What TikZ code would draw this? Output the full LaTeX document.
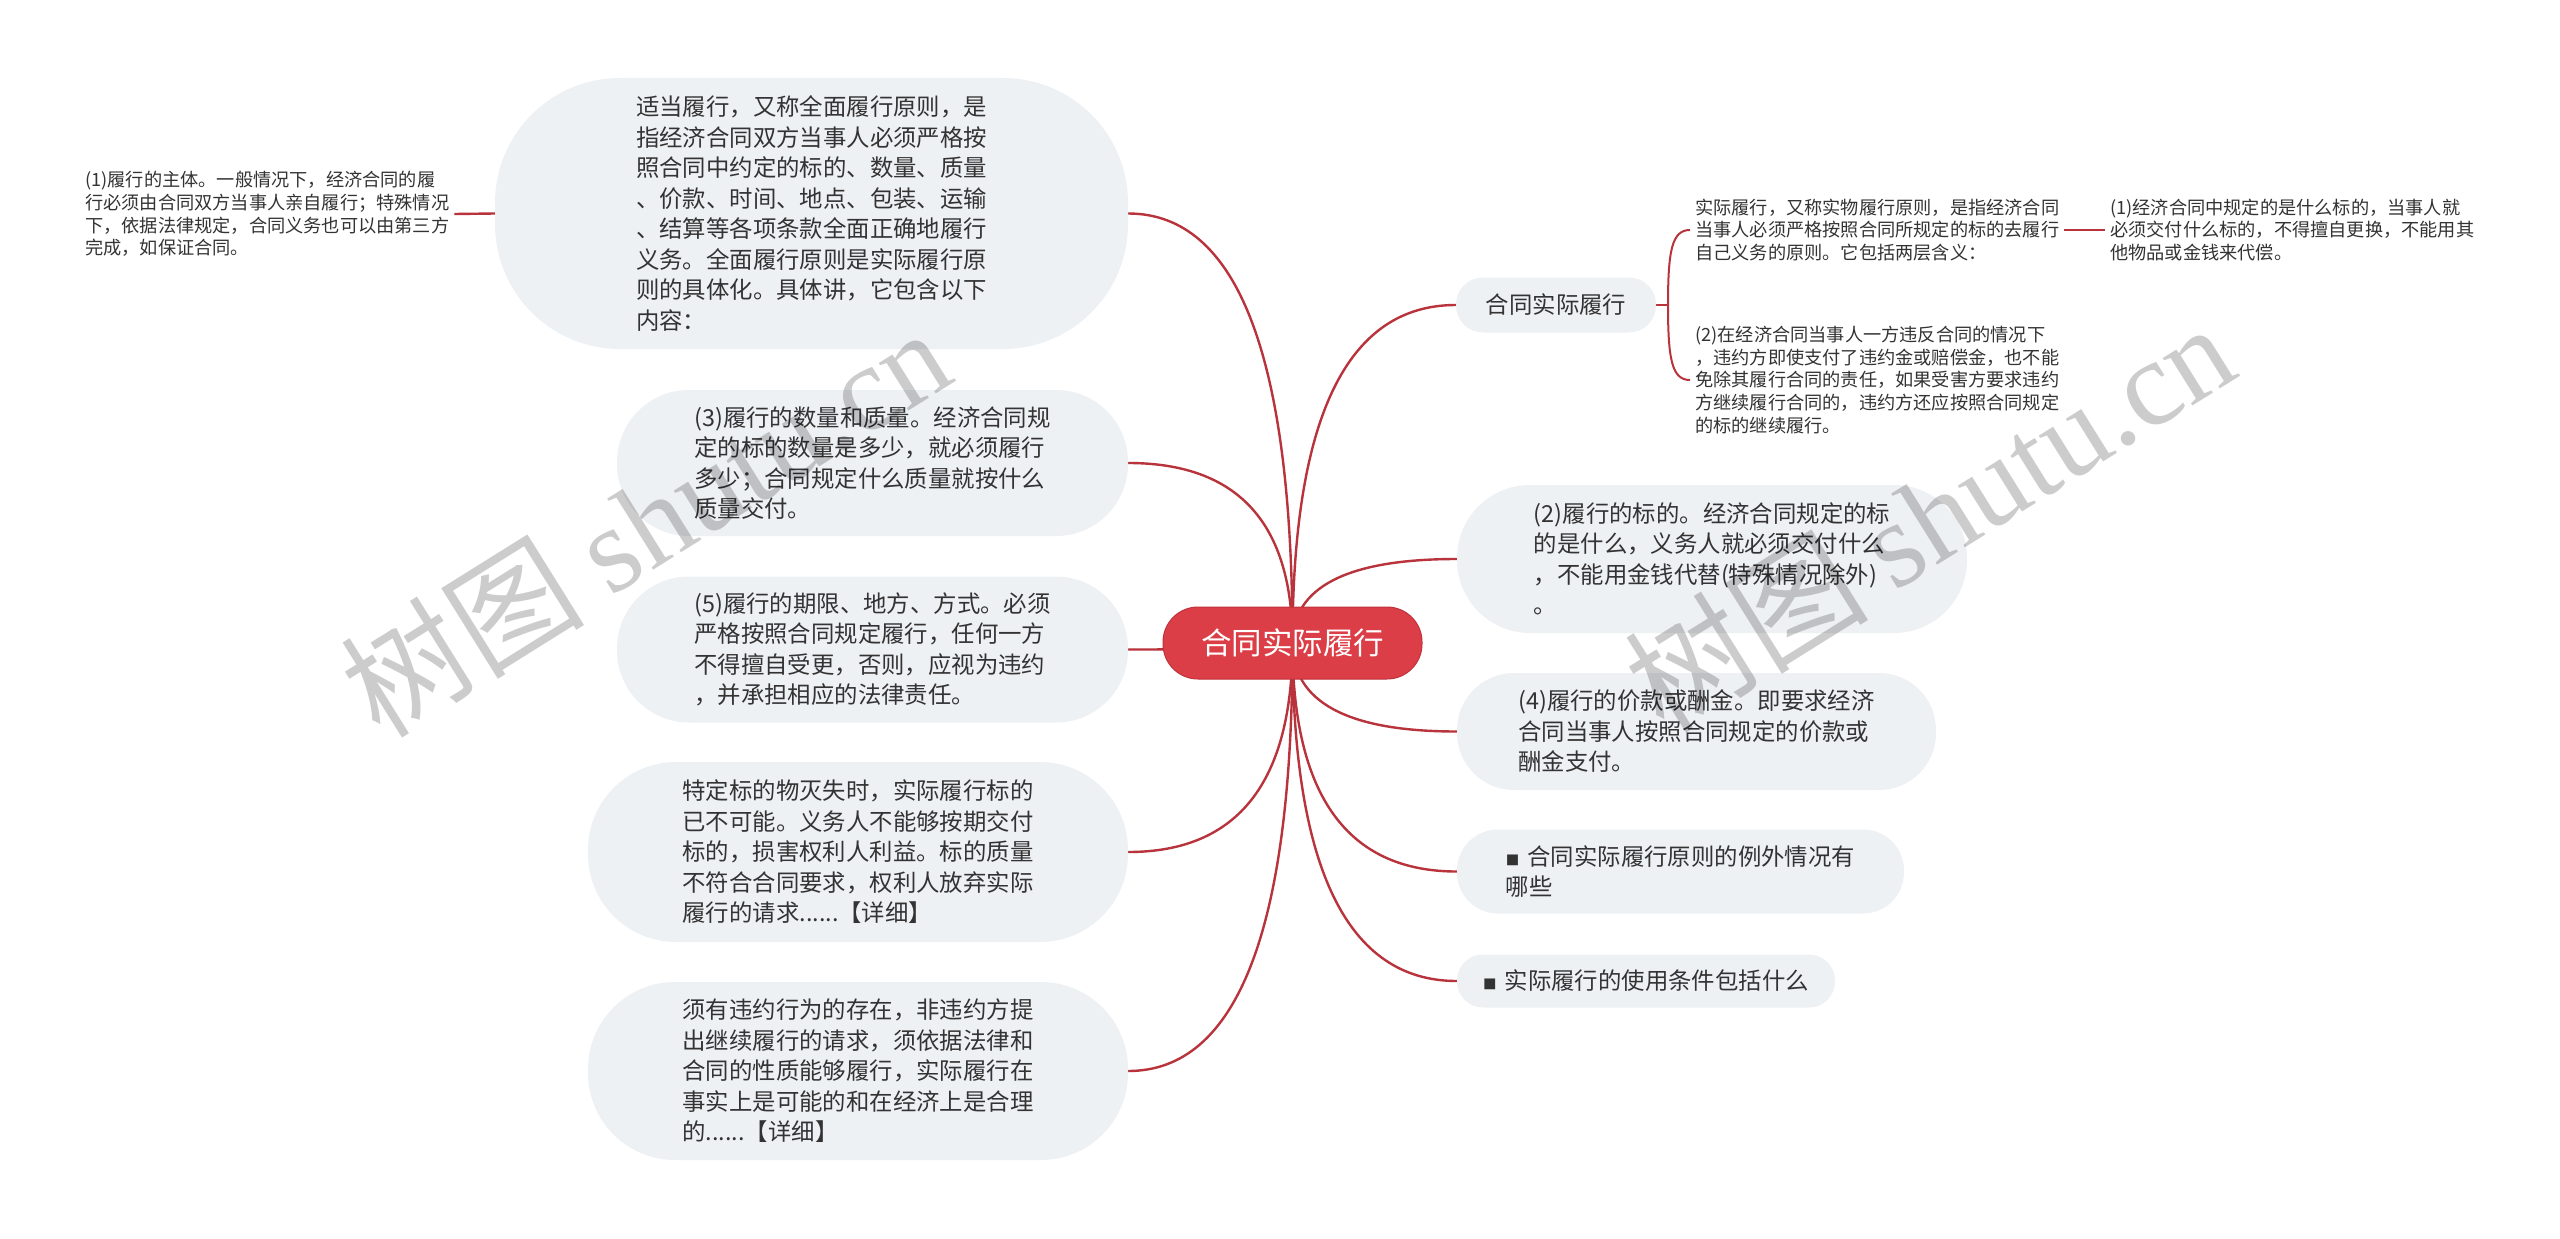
\documentclass[tikz,border=0pt]{standalone}
\usepackage{fontspec}
\setmainfont{Noto Sans CJK SC}
\newfontfamily\wmlatin{Liberation Serif}
\usetikzlibrary{calc,backgrounds}
\definecolor{boxfill}{HTML}{EEF1F4}
\definecolor{rootred}{HTML}{DC3E47}
\definecolor{rootedge}{HTML}{C0323B}
\definecolor{linkred}{HTML}{B8333B}
\definecolor{txt}{HTML}{333333}
\newcommand\mmsq{{\fontsize{13.5}{13.5}\selectfont ■}\hspace{8pt}}
\newcommand\mmlink[2]{\draw[conn] (#1.center) .. controls ($(#1.center)!0.667!(#1.center |- #2)$) and ($(#2)!0.667!(#1.center |- #2)$) .. (#2);}
\begin{document}
\begin{tikzpicture}[x=1pt,y=-1pt,
  big/.style={font=\fontsize{23.4}{30.5}\selectfont, text=txt},
  small/.style={font=\fontsize{18.2}{22.8}\selectfont, text=txt, align=left, inner sep=0pt, inner xsep=5pt},
  box/.style n args={3}{fill=boxfill, align=left, inner sep=0pt, minimum width=#1, minimum height=#2, rounded corners=#3},
  conn/.style={draw=linkred, line width=2.4pt},
  wm/.style={font=\fontsize{122}{122}\selectfont, text=black, opacity=0.2, rotate=32}
]
\useasboundingbox (0,0) rectangle (2560,1239);

% root
\node[box={259pt}{72pt}{35pt}, fill=rootred, draw=rootedge, line width=1pt, text=white, font=\fontsize{30.5}{36}\selectfont] (root) at (1292.5,643) {合同实际履行};

% left branches
\node[box={633pt}{271pt}{125pt}, big] (A) at (811.5,213.5) {适当履行，又称全面履行原则，是\\指经济合同双方当事人必须严格按\\照合同中约定的标的、数量、质量\\、价款、时间、地点、包装、运输\\、结算等各项条款全面正确地履行\\义务。全面履行原则是实际履行原\\则的具体化。具体讲，它包含以下\\内容：};
\node[box={511pt}{146pt}{72pt}, big] (B) at (872.5,463) {(3)履行的数量和质量。经济合同规\\定的标的数量是多少，就必须履行\\多少；合同规定什么质量就按什么\\质量交付。};
\node[box={511pt}{146pt}{72pt}, big] (C) at (872.5,649.5) {(5)履行的期限、地方、方式。必须\\严格按照合同规定履行，任何一方\\不得擅自受更，否则，应视为违约\\，并承担相应的法律责任。};
\node[box={540pt}{180pt}{88pt}, big] (D) at (858,852) {特定标的物灭失时，实际履行标的\\已不可能。义务人不能够按期交付\\标的，损害权利人利益。标的质量\\不符合合同要求，权利人放弃实际\\履行的请求......【详细】};
\node[box={540pt}{178pt}{87pt}, big] (E) at (858,1071) {须有违约行为的存在，非违约方提\\出继续履行的请求，须依据法律和\\合同的性质能够履行，实际履行在\\事实上是可能的和在经济上是合理\\的......【详细】};
\node[small, anchor=west] (P1) at (80,214) {(1)履行的主体。一般情况下，经济合同的履\\行必须由合同双方当事人亲自履行；特殊情况\\下，依据法律规定，合同义务也可以由第三方\\完成，如保证合同。};

% right branches
\node[box={200pt}{55pt}{27pt}, big] (F) at (1556,305) {合同实际履行};
\node[small, anchor=west] (G) at (1690,230) {实际履行，又称实物履行原则，是指经济合同\\当事人必须严格按照合同所规定的标的去履行\\自己义务的原则。它包括两层含义：};
\node[small, anchor=west] (H) at (1690,380) {(2)在经济合同当事人一方违反合同的情况下\\，违约方即使支付了违约金或赔偿金，也不能\\免除其履行合同的责任，如果受害方要求违约\\方继续履行合同的，违约方还应按照合同规定\\的标的继续履行。};
\node[small, anchor=west] (I) at (2105,230) {(1)经济合同中规定的是什么标的，当事人就\\必须交付什么标的，不得擅自更换，不能用其\\他物品或金钱来代偿。};
\node[box={510pt}{148pt}{73pt}, big] (J) at (1712,559) {(2)履行的标的。经济合同规定的标\\的是什么，义务人就必须交付什么\\，不能用金钱代替(特殊情况除外)\\。};
\node[box={479pt}{117pt}{57pt}, big] (K) at (1696.5,731.5) {(4)履行的价款或酬金。即要求经济\\合同当事人按照合同规定的价款或\\酬金支付。};
\node[box={447pt}{84pt}{41pt}, big] (L) at (1680.5,871.5) {\mmsq 合同实际履行原则的例外情况有\\哪些};
\node[box={378pt}{53pt}{26pt}, big] (M) at (1646,981) {\mmsq 实际履行的使用条件包括什么};

\coordinate (jF) at (1668,305);

\begin{scope}[on background layer]
\fill[white] (0,0) rectangle (2560,1239);
\mmlink{root}{A.east}
\mmlink{root}{B.east}
\mmlink{root}{C.east}
\mmlink{root}{D.east}
\mmlink{root}{E.east}
\mmlink{root}{F.west}
\mmlink{root}{J.west}
\mmlink{root}{K.west}
\mmlink{root}{L.west}
\mmlink{root}{M.west}
\draw[conn] (A.west) -- (P1.east);
\draw[conn] (F.east) -- (jF);
\draw[conn, line width=2pt] (jF) .. controls (1668,250) and (1672,230) .. (G.west);
\draw[conn, line width=2pt] (jF) .. controls (1668,360) and (1672,380) .. (H.west);
\draw[conn, line width=2pt] (G.east) -- (I.west);
\end{scope}

% watermarks
\node[wm] (wm1) at (645,521) {树图 {\wmlatin shutu.cn}};
\node[wm] (wm2) at (1929,516) {树图 {\wmlatin shutu.cn}};
\end{tikzpicture}
\end{document}
